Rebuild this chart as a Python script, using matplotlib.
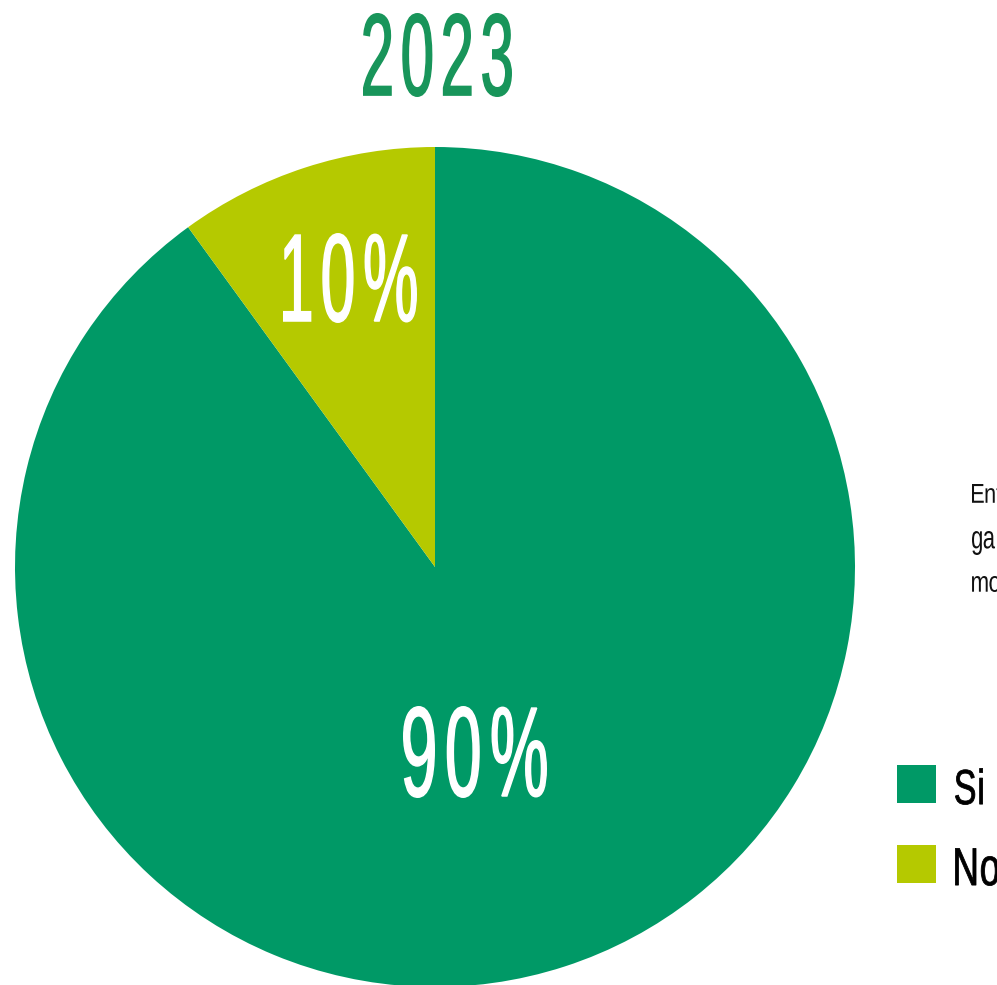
import matplotlib
matplotlib.use('Agg')
import matplotlib.pyplot as plt
from matplotlib.textpath import TextPath
from matplotlib.patches import PathPatch, Rectangle
from matplotlib.font_manager import FontProperties
from matplotlib.transforms import Affine2D
from matplotlib.path import Path

# datos
labels = ['Si', 'No']
values = [90, 10]
colors = ['#009966', '#B5C900']
pct_labels = ['90%', '10%']
title = '2023'
side_text = ['Ent', 'ga', 'mo']

W, H = 997, 985
fp = FontProperties(family=['Liberation Sans Narrow', 'Liberation Sans', 'DejaVu Sans'])

fig = plt.figure(figsize=(W / 100, H / 100), dpi=100)
ax = fig.add_axes([0, 0, 1, 1])

# pie en coordenadas de pixel (y hacia arriba)
ax.pie(values, colors=colors, startangle=90, counterclock=False,
       center=(435, H - 567), radius=420, wedgeprops=dict(linewidth=0))
ax.set_xlim(0, W)
ax.set_ylim(0, H)
ax.set_aspect('auto')
ax.axis('off')


def text_path(s, gap):
    # une los caracteres con espacio extra entre ellos
    parts = []
    cursor = 0
    for ch in s:
        tp = TextPath((0, 0), ch, size=100, prop=fp)
        ext = tp.get_extents()
        parts.append(Affine2D().translate(cursor - ext.x0, 0).transform_path(tp))
        cursor += ext.width + gap * 100
    return Path.make_compound_path(*parts)


def fit_text(s, box, color, gap=0.12, thick=0):
    # texto como path, estirado para caber en la caja (x0, top, x1, bottom)
    x0, top, x1, bottom = box
    h = thick / 2
    x0, top, x1, bottom = x0 + h, top + h, x1 - h, bottom - h
    tp = text_path(s, gap)
    ext = tp.get_extents()
    sx = (x1 - x0) / ext.width
    sy = (bottom - top) / ext.height
    tr = Affine2D().translate(-ext.x0, -ext.y0).scale(sx, sy).translate(x0, H - bottom)
    ax.add_patch(PathPatch(tr.transform_path(tp), fc=color,
                           ec=color if thick else 'none', lw=thick * 0.72))


fit_text(title, (363, 13, 512, 97), '#18955A', gap=0.2, thick=1.5)

pct_boxes = [(403, 706, 547, 798), (283, 233, 417, 323)]
for s, b in zip(pct_labels, pct_boxes):
    fit_text(s, b, 'white', gap=0.2, thick=1.5)

# leyenda
leg_y = [765, 845]
leg_text_boxes = [(955, 768, 983, 805), (955, 848, 999, 886)]
for lab, c, y, b in zip(labels, colors, leg_y, leg_text_boxes):
    ax.add_patch(Rectangle((897, H - y - 38), 39, 38, fc=c, ec='none'))
    fit_text(lab, b, 'black', gap=0.14, thick=0.8)

# texto lateral cortado
side_boxes = [(972, 484, 1002, 503), (972, 531, 995, 555), (972, 576, 1000, 592)]
for s, b in zip(side_text, side_boxes):
    fit_text(s, b, '#111111', gap=0.08)

plt.savefig('out.png', dpi=100)
